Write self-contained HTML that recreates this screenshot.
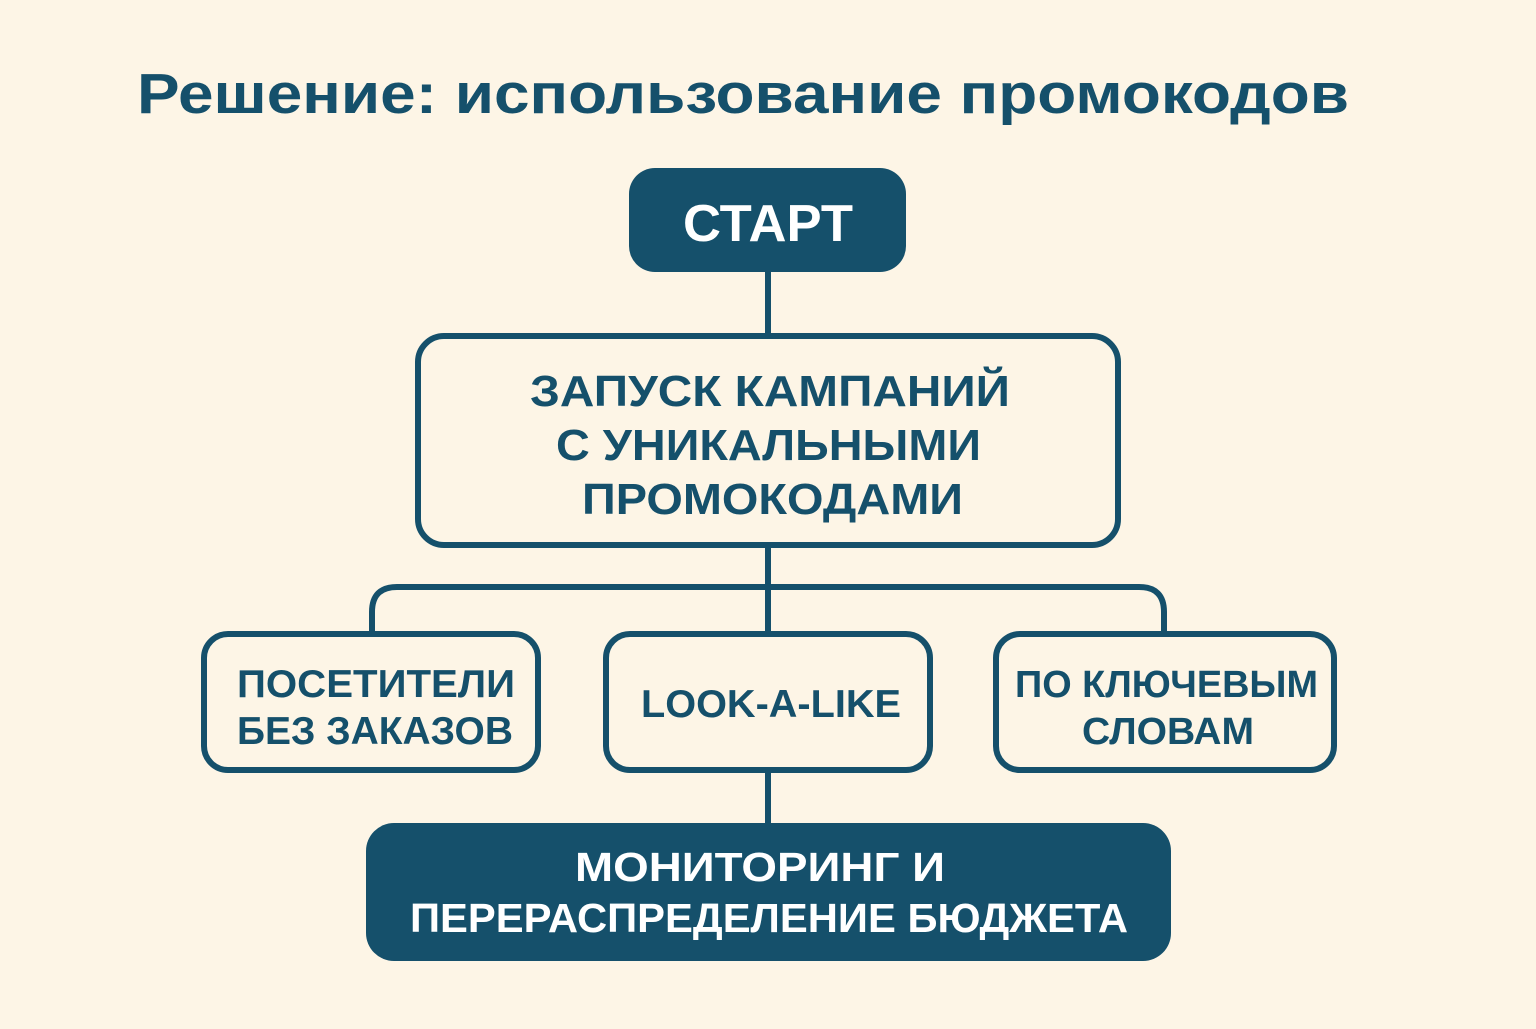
<!DOCTYPE html>
<html><head><meta charset="utf-8"><style>
html,body{margin:0;padding:0;background:#FDF5E6;}
body{width:1536px;height:1024px;overflow:hidden;}
svg text{font-family:"Liberation Sans","DejaVu Sans",sans-serif;font-weight:bold;}
</style></head><body>
<svg width="1536" height="1024" viewBox="0 0 1536 1024" xmlns="http://www.w3.org/2000/svg">
<rect width="1536" height="1024" fill="#FDF5E6"/>
<text x="137" y="113" font-size="57" fill="#15506B" textLength="1212" lengthAdjust="spacingAndGlyphs">Решение: использование промокодов</text>
<g stroke="#15506B" stroke-width="6" fill="none">
<line x1="768" y1="270" x2="768" y2="336"/>
<line x1="768" y1="546" x2="768" y2="634"/>
<path d="M372 634 V612 Q372 587 397 587 H1139 Q1164 587 1164 612 V634"/>
<line x1="768" y1="770" x2="768" y2="826"/>
<rect x="418" y="336" width="700" height="209" rx="26"/>
<rect x="204" y="634" width="334" height="136" rx="24"/>
<rect x="606" y="634" width="324" height="136" rx="24"/>
<rect x="996" y="634" width="338" height="136" rx="24"/>
</g>
<rect x="629" y="168" width="277" height="104" rx="26" fill="#15506B"/>
<rect x="366" y="823" width="805" height="138" rx="28" fill="#15506B"/>
<g fill="#FFFFFF" lengthAdjust="spacingAndGlyphs">
<text x="683" y="241" font-size="52" textLength="170" lengthAdjust="spacingAndGlyphs">СТАРТ</text>
<text x="575" y="881" font-size="41" textLength="370" lengthAdjust="spacingAndGlyphs">МОНИТОРИНГ И</text>
<text x="410" y="932" font-size="41" textLength="718" lengthAdjust="spacingAndGlyphs">ПЕРЕРАСПРЕДЕЛЕНИЕ БЮДЖЕТА</text>
</g>
<g fill="#15506B">
<text x="530" y="406" font-size="44" textLength="480" lengthAdjust="spacingAndGlyphs">ЗАПУСК КАМПАНИЙ</text>
<text x="556" y="460" font-size="44" textLength="425" lengthAdjust="spacingAndGlyphs">С УНИКАЛЬНЫМИ</text>
<text x="582" y="514" font-size="44" textLength="381" lengthAdjust="spacingAndGlyphs">ПРОМОКОДАМИ</text>
<text x="237" y="697" font-size="39" textLength="278" lengthAdjust="spacingAndGlyphs">ПОСЕТИТЕЛИ</text>
<text x="237" y="744" font-size="39" textLength="276" lengthAdjust="spacingAndGlyphs">БЕЗ ЗАКАЗОВ</text>
<text x="641" y="717" font-size="39" textLength="260" lengthAdjust="spacingAndGlyphs">LOOK-A-LIKE</text>
<text x="1015" y="697" font-size="38" textLength="303" lengthAdjust="spacingAndGlyphs">ПО КЛЮЧЕВЫМ</text>
<text x="1082" y="744" font-size="38" textLength="172" lengthAdjust="spacingAndGlyphs">СЛОВАМ</text>
</g>
</svg>
</body></html>
